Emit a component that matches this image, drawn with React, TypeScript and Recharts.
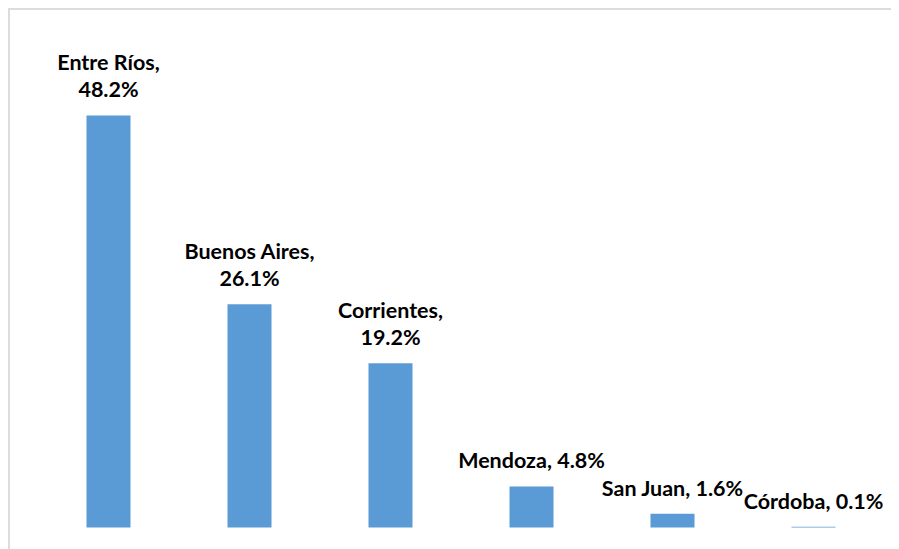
import { BarChart, Bar, XAxis, YAxis, LabelList } from 'recharts'

const provinces = ['Entre Ríos', 'Buenos Aires', 'Corrientes', 'Mendoza', 'San Juan', 'Córdoba']
const shares = [48.2, 26.1, 19.2, 4.8, 1.6, 0.1]
// Excel wrapped the label onto two lines for the tall bars
const wrapped = [true, true, true, false, false, false]

const data = provinces.map((name, i) => ({ name, value: shares[i], wrap: wrapped[i] }))

const FONT = 'Lato, "Open Sans", sans-serif'

function BarLabel(props: any) {
  const { x, y, width, index } = props
  const d = data[index]
  const cx = x + width / 2
  const pct = `${d.value.toFixed(1)}%`
  if (d.wrap) {
    return (
      <text x={cx} y={y - 45} textAnchor="middle" fontFamily={FONT} fontWeight={700} fontSize={21.5} fill="#000">
        <tspan x={cx} dy={0}>{d.name},</tspan>
        <tspan x={cx} dy={27}>{pct}</tspan>
      </text>
    )
  }
  return (
    <text x={cx} y={y - 18} textAnchor="middle" fontFamily={FONT} fontWeight={700} fontSize={21.5} fill="#000">
      {d.name}, {pct}
    </text>
  )
}

export default function App() {
  return (
    <div
      style={{
        width: 889,
        height: 539,
        borderTop: '2px solid #dcdcdc',
        borderLeft: '2px solid #dcdcdc',
        background: '#fff',
        overflow: 'hidden',
      }}
    >
      <BarChart width={889} height={539} data={data} margin={{ top: 90, right: 15.5, bottom: 21.5, left: 27.5 }} barSize={44}>
        <XAxis dataKey="name" hide />
        <YAxis type="number" domain={[0, 50]} hide />
        <Bar dataKey="value" fill="#5b9bd5" isAnimationActive={false}>
          <LabelList dataKey="value" content={BarLabel} />
        </Bar>
      </BarChart>
    </div>
  )
}
